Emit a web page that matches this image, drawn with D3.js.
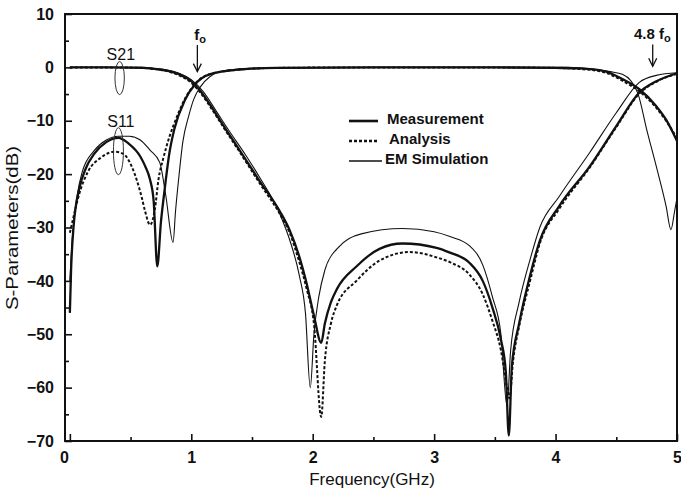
<!DOCTYPE html>
<html>
<head>
<meta charset="utf-8">
<script src="https://cdn.jsdelivr.net/npm/d3@7"></script>
<style>
  body { margin: 0; background: #fff; }
  text { font-family: "Liberation Sans", Arial, sans-serif; fill: #111; }
</style>
</head>
<body>
<div id="chart"></div>
<script>
// frequency (GHz), S-parameter (dB)
var measS21 = [[0,0],[0.3,0],[0.6,-0.1],[0.7,-0.3],[0.8,-0.6],[0.9,-1.3],[1.0,-2.6],[1.07,-4.3],[1.2,-8.6],[1.29,-11.8],[1.4,-15.6],[1.56,-21.2],[1.73,-27],[1.81,-30.5],[1.89,-35.5],[1.95,-40.5],[2.01,-46.5],[2.07,-51.6],[2.1,-48],[2.15,-44],[2.2,-41.5],[2.36,-37.3],[2.55,-34],[2.74,-33],[3.02,-33.8],[3.13,-34.7],[3.29,-36.6],[3.4,-40],[3.48,-45],[3.55,-51],[3.59,-57],[3.615,-69],[3.64,-56],[3.7,-48],[3.79,-39],[3.87,-32.5],[4.03,-26],[4.28,-18.6],[4.5,-11],[4.69,-4.7],[4.83,-2.6],[5.0,-1.1]];
var anaS21 = [[0,0],[0.3,0],[0.6,-0.1],[0.7,-0.3],[0.8,-0.7],[0.9,-1.5],[1.0,-2.9],[1.07,-4.6],[1.2,-8.9],[1.29,-12.1],[1.4,-15.9],[1.56,-21.6],[1.73,-27.5],[1.81,-31],[1.89,-36.5],[1.95,-41.5],[2.01,-48],[2.07,-65.5],[2.1,-55],[2.15,-48],[2.2,-44.5],[2.36,-40],[2.55,-36.2],[2.8,-34.6],[3.02,-35.6],[3.13,-36.5],[3.29,-38.8],[3.4,-42.5],[3.48,-47.5],[3.55,-53],[3.6,-60],[3.62,-62],[3.65,-55],[3.7,-48.5],[3.79,-40],[3.87,-33],[4.03,-26.5],[4.28,-18.8],[4.5,-11.2],[4.69,-4.9],[4.83,-2.7],[5.0,-1.2]];
var emS21 = [[0,0],[0.3,0],[0.6,0],[0.7,-0.2],[0.8,-0.5],[0.9,-1.1],[1.0,-2.3],[1.1,-4.6],[1.2,-8],[1.3,-11.5],[1.45,-16.5],[1.56,-20.5],[1.73,-27.5],[1.82,-33],[1.89,-39],[1.94,-46],[1.98,-60],[2.01,-50],[2.05,-43],[2.1,-38],[2.2,-34],[2.4,-31.2],[2.74,-30.2],[3.0,-30.8],[3.13,-31.7],[3.29,-33.4],[3.4,-37],[3.48,-43],[3.55,-50],[3.6,-63.5],[3.63,-53],[3.7,-44],[3.79,-36],[3.87,-30],[4.03,-24.2],[4.28,-16],[4.5,-8.5],[4.69,-2.8],[4.83,-1.5],[5.0,-1.0]];

var measS11 = [[0,-46],[0.01,-38],[0.03,-30],[0.08,-22.5],[0.13,-19],[0.2,-16.2],[0.3,-14],[0.4,-13.2],[0.48,-14.2],[0.58,-16.7],[0.62,-18.5],[0.66,-21],[0.69,-25],[0.72,-37.3],[0.75,-29],[0.78,-23],[0.82,-16],[0.86,-11.6],[0.95,-6],[1.03,-3.2],[1.15,-1.3],[1.4,-0.4],[1.7,-0.1],[2.5,0],[3.5,0],[4.0,-0.1],[4.2,-0.2],[4.4,-0.7],[4.55,-2.2],[4.69,-4.1],[4.83,-7.3],[4.91,-9.8],[5.0,-13.8]];
var anaS11 = [[0,-31],[0.02,-29],[0.08,-23.5],[0.15,-19.5],[0.25,-17],[0.37,-15.8],[0.44,-16.2],[0.51,-18.6],[0.59,-24.2],[0.62,-27],[0.66,-29.5],[0.7,-26.6],[0.73,-21],[0.77,-17],[0.82,-13],[0.86,-10.5],[0.95,-5.8],[1.03,-3.1],[1.15,-1.3],[1.4,-0.4],[1.7,-0.1],[2.5,0],[3.5,0],[4.0,-0.1],[4.2,-0.3],[4.4,-0.9],[4.55,-2.5],[4.69,-4.5],[4.83,-7.6],[4.91,-10],[5.0,-13.3]];
var emS11 = [[0,-40],[0.02,-32],[0.06,-24],[0.1,-19.7],[0.2,-15.6],[0.3,-13.6],[0.4,-12.9],[0.49,-12.9],[0.58,-13.6],[0.66,-15.5],[0.74,-17.8],[0.79,-24],[0.85,-32.8],[0.87,-27],[0.9,-20],[0.93,-14],[0.98,-9],[1.02,-6],[1.07,-3.8],[1.15,-1.8],[1.3,-0.5],[1.6,-0.1],[2.5,0],[3.5,0],[4.1,0],[4.3,-0.3],[4.45,-0.8],[4.55,-1.3],[4.62,-2.5],[4.68,-5],[4.75,-11.6],[4.83,-18.6],[4.91,-26],[4.95,-30.4],[4.98,-27],[5.0,-24.5]];

var freqTicks = [0, 1, 2, 3, 4, 5];
var freqMinor = [0.5, 1.5, 2.5, 3.5, 4.5];
var dbTicks = [10, 0, -10, -20, -30, -40, -50, -60, -70];
var dbMinor = [5, -5, -15, -25, -35, -45, -55, -65];
var legendNames = ["Measurement", "Analysis", "EM Simulation"];

var width = 681, height = 492;
var margin = { top: 14, right: 4, bottom: 51, left: 65 };

var svg = d3.select("#chart").append("svg")
    .attr("width", width)
    .attr("height", height);

var x = d3.scaleLinear().domain([-0.04, 5]).range([margin.left, width - margin.right]);
var y = d3.scaleLinear().domain([-70, 10]).range([height - margin.bottom, margin.top]);

var styles = {
    meas: { w: 2.3, dash: null },
    ana: { w: 2, dash: "3,2" },
    em: { w: 1.1, dash: null }
};

var line = d3.line()
    .x(function(d) { return x(d[0]); })
    .y(function(d) { return y(d[1]); })
    .curve(d3.curveMonotoneX);

var series = [
    { d: emS11, s: styles.em }, { d: emS21, s: styles.em },
    { d: anaS11, s: styles.ana }, { d: anaS21, s: styles.ana },
    { d: measS11, s: styles.meas }, { d: measS21, s: styles.meas }
];

svg.append("g").selectAll("path")
    .data(series)
    .enter().append("path")
    .attr("d", function(d) { return line(d.d); })
    .attr("fill", "none")
    .attr("stroke", "#111")
    .attr("stroke-width", function(d) { return d.s.w; })
    .attr("stroke-dasharray", function(d) { return d.s.dash; });

// frame
svg.append("rect")
    .attr("x", margin.left).attr("y", margin.top)
    .attr("width", width - margin.right - margin.left)
    .attr("height", height - margin.bottom - margin.top)
    .attr("fill", "none").attr("stroke", "#111").attr("stroke-width", 2);

// ticks (inward)
var gx = svg.append("g").attr("transform", "translate(0," + y(-70) + ")")
    .call(d3.axisBottom(x).tickValues(freqTicks).tickSize(-7).tickPadding(11).tickFormat(d3.format("d")));
svg.append("g").attr("transform", "translate(0," + y(-70) + ")")
    .call(d3.axisBottom(x).tickValues(freqMinor).tickSize(-4).tickFormat(""));
var gy = svg.append("g").attr("transform", "translate(" + x(-0.04) + ",0)")
    .call(d3.axisLeft(y).tickValues(dbTicks).tickSize(-7).tickPadding(11).tickFormat(d3.format("d")));
svg.append("g").attr("transform", "translate(" + x(-0.04) + ",0)")
    .call(d3.axisLeft(y).tickValues(dbMinor).tickSize(-4).tickFormat(""));

svg.selectAll(".domain").remove();
svg.selectAll(".tick line").attr("stroke", "#111").attr("stroke-width", 1.6);
gx.selectAll("text").attr("font-size", 16).attr("font-weight", "bold").style("font-family", "Liberation Sans, Arial");
gy.selectAll("text").attr("font-size", 16).attr("font-weight", "bold").style("font-family", "Liberation Sans, Arial");
// the "0" label sits at the left corner in the original
gx.selectAll(".tick text").filter(function(d) { return d === 0; }).attr("dx", -6);

// axis titles
svg.append("text")
    .attr("x", 372).attr("y", 485)
    .attr("text-anchor", "middle").attr("font-size", 17)
    .text("Frequency(GHz)");
svg.append("text")
    .attr("transform", "translate(18,228) rotate(-90)")
    .attr("text-anchor", "middle").attr("font-size", 17)
    .attr("textLength", 164).attr("lengthAdjust", "spacingAndGlyphs")
    .text("S-Parameters(dB)");

// legend
var legend = svg.append("g");
var legendStyles = [styles.meas, styles.ana, styles.em];
legendNames.forEach(function(name, i) {
    var ly = 121 + i * 20;
    legend.append("line")
        .attr("x1", 349).attr("x2", i === 2 ? 382 : 378)
        .attr("y1", ly).attr("y2", ly)
        .attr("stroke", "#111")
        .attr("stroke-width", legendStyles[i].w + 0.3)
        .attr("stroke-dasharray", legendStyles[i].dash);
    legend.append("text")
        .attr("x", i === 0 ? 387 : (i === 1 ? 389 : 385)).attr("y", ly + 3)
        .attr("font-size", 15).attr("font-weight", "bold")
        .text(name);
});

// S21 / S11 ellipses
svg.append("ellipse")
    .attr("cx", x(0.41)).attr("cy", y(-2))
    .attr("rx", 4.7).attr("ry", y(-5.1) - y(-2))
    .attr("fill", "none").attr("stroke", "#333").attr("stroke-width", 1);
svg.append("ellipse")
    .attr("cx", x(0.40)).attr("cy", y(-15.7))
    .attr("rx", 5).attr("ry", y(-20.1) - y(-15.7))
    .attr("fill", "none").attr("stroke", "#333").attr("stroke-width", 1);
svg.append("text").attr("x", x(0.42)).attr("y", y(1.4))
    .attr("text-anchor", "middle").attr("font-size", 16).text("S21");
svg.append("text").attr("x", x(0.42)).attr("y", y(-11.1))
    .attr("text-anchor", "middle").attr("font-size", 16).text("S11");

// f0 markers
function arrow(f, top, bot) {
    svg.append("line")
        .attr("x1", x(f)).attr("x2", x(f))
        .attr("y1", y(top)).attr("y2", y(bot))
        .attr("stroke", "#111").attr("stroke-width", 1.3);
    svg.append("path")
        .attr("d", "M" + (x(f) - 4) + "," + (y(bot) - 8) + "L" + x(f) + "," + y(bot) + "L" + (x(f) + 4) + "," + (y(bot) - 8))
        .attr("fill", "none").attr("stroke", "#111").attr("stroke-width", 1.3);
}
arrow(1.05, 4.2, -0.8);
arrow(4.8, 4.3, 0.2);

var t1 = svg.append("text").attr("x", x(1.05) - 3).attr("y", 40)
    .attr("font-size", 15).attr("font-weight", "bold");
t1.append("tspan").text("f");
t1.append("tspan").attr("font-size", 11).attr("dy", 3).text("o");
var t2 = svg.append("text").attr("x", 634).attr("y", 39)
    .attr("font-size", 15).attr("font-weight", "bold");
t2.append("tspan").text("4.8 f");
t2.append("tspan").attr("font-size", 11).attr("dy", 3).text("o");
</script>
</body>
</html>
